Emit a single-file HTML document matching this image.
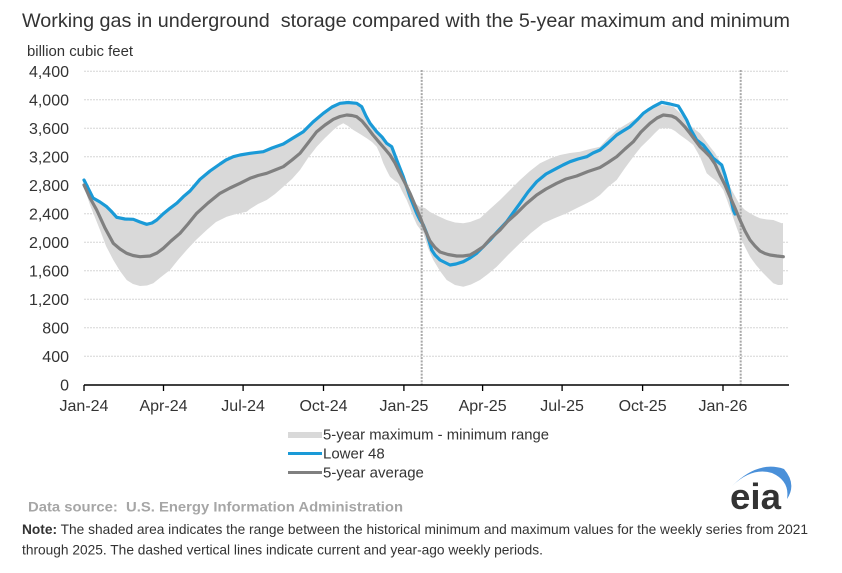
<!DOCTYPE html>
<html><head><meta charset="utf-8"><style>
html,body{margin:0;padding:0;background:#fff;}
svg{display:block;}
text{font-family:"Liberation Sans",Arial,sans-serif;}
</style></head><body>
<svg width="842" height="573" viewBox="0 0 842 573" xmlns="http://www.w3.org/2000/svg">
<rect width="842" height="573" fill="#fff"/>
<text x="22" y="27" font-size="19.5" fill="#333" textLength="768" lengthAdjust="spacingAndGlyphs" style="white-space:pre">Working gas in underground  storage compared with the 5-year maximum and minimum</text>
<text x="27" y="56" font-size="15" fill="#333" textLength="106" lengthAdjust="spacingAndGlyphs">billion cubic feet</text>

<!-- gridlines -->
<g stroke="#d6d6d6" stroke-width="1" stroke-dasharray="2 1">
<line x1="84" x2="789" y1="71.2" y2="71.2"/>
<line x1="84" x2="789" y1="99.7" y2="99.7"/>
<line x1="84" x2="789" y1="128.2" y2="128.2"/>
<line x1="84" x2="789" y1="156.7" y2="156.7"/>
<line x1="84" x2="789" y1="185.2" y2="185.2"/>
<line x1="84" x2="789" y1="213.7" y2="213.7"/>
<line x1="84" x2="789" y1="242.2" y2="242.2"/>
<line x1="84" x2="789" y1="270.7" y2="270.7"/>
<line x1="84" x2="789" y1="299.2" y2="299.2"/>
<line x1="84" x2="789" y1="327.8" y2="327.8"/>
<line x1="84" x2="789" y1="356.3" y2="356.3"/>
</g>

<!-- y labels -->
<g font-size="16" fill="#333" text-anchor="end">
<text x="69" y="77">4,400</text>
<text x="69" y="105.5">4,000</text>
<text x="69" y="134">3,600</text>
<text x="69" y="162.5">3,200</text>
<text x="69" y="191">2,800</text>
<text x="69" y="219.5">2,400</text>
<text x="69" y="248">2,000</text>
<text x="69" y="276.5">1,600</text>
<text x="69" y="305">1,200</text>
<text x="69" y="333.5">800</text>
<text x="69" y="362">400</text>
<text x="69" y="390.5">0</text>
</g>

<!-- band -->
<polygon fill="#d9d9d9" points="
84,179 88,187 93,197 100,201 106.7,205.7 111,210 116.7,216.3 125,218 133.3,218.3 140,221 146.7,223.3 152,222 156.7,219 163,213 170,207.3 177,202 183.3,195.7 190,190 200,178.3 210,170 220,163 226,159 233.3,155.7 240,154 250,152.3 263.3,150.7 272,147 283.3,143 293,137 303.3,130.7 313,121 323.3,112.3 332,106 340,103 348,103 356.7,104 361.7,107.7 366,117 370,124.3 376.7,132.7 382,138 386.7,144.3 391.7,148 396.7,161 400,170 405,184 410,195 415,203 420,207 425,208 430,212 438,216 446.7,220 455,222.5 463.3,223.3 470,222 480,218.3 490,209 500,200 510,190 520,180 530,171 540,163.3 550,158.5 560,155 570,153 580,151.7 590,149 600,146.7 608,138 616.7,130 625,125 633.3,120 641,115 650,110 655,107 660,105 667,105.5 673.3,106.7 680,113 686.7,121.7 693,128 700,133.3 705,140 710,146.7 715,153 720,161.7 725,173 730,186.7 735,196 740,205 745,210 750,213.3 755,216 760,218.3 767,219.5 773.3,220 781.7,223.3 783,223
783,284 781.7,285 778,285 773.3,283.3 768,278 763.3,273.3 756,265 750,256.7 745,247 740,236.7 735,223 731.7,213.3 727,200 723.3,190 719,184 715,180 711,177 706.7,173.3 700,156.7 693.3,145 687,140 680,135 675,131 670,128.3 660,128.3 655,133 650,138.3 641,147 633.3,156.7 625,168 616.7,180 608,187 600,195 593,200 586.7,203.3 576,208.5 566.7,213.3 555,218 543.3,223.3 531,233 520,243.3 508,255 496.7,266.7 488,274 480,280 471,284.5 463.3,286.7 455,285 446.7,280 440,271 433.3,260 428,248 423,232 420,229 417,225 413.3,216.7 410,208 406.7,200 402,191 398.3,183.3 395,181 390,176.7 387,171 383.3,163.3 380,154 376.7,146.7 372,142 366.7,138.3 360,134 353.3,130 348,126 343.3,123.3 338,126 333.3,130 325,138 316.7,146.7 308,158 300,170 292,179 283.3,186.7 275,194 266.7,200 258,204 250,209 246.7,211.7 236,214 226.7,216.7 216,222 206.7,230 196,240 186.7,250 178,260 170,270 161,277 153.3,283.3 147,285.5 140,286 133,284 126.7,280 120,271 113.3,260 106,246 100,230 90,205 84,187"/>

<!-- dashed vertical lines -->
<g stroke="#a8a8a8" stroke-width="2" stroke-dasharray="2 1.3">
<line x1="421.7" x2="421.7" y1="70" y2="385"/>
<line x1="740.7" x2="740.7" y1="70" y2="385"/>
</g>

<!-- Lower 48 -->
<polyline fill="none" stroke="#1a9ad7" stroke-width="3.2" stroke-linejoin="round" stroke-linecap="round" points="
84,180 88,188 93,198 100,202 106.7,206.7 111,211 116.7,217.3 125,219 133.3,219.3 140,222 146.7,224.3 152,223 156.7,220 163,214 170,208.3 177,203 183.3,196.7 190,191 200,179.3 210,171 220,164 226,160 233.3,156.7 240,155 250,153.3 263.3,151.7 272,148 283.3,144 293,138 303.3,131.7 313,122 323.3,113.3 332,107 340,103.3 348,102.5 356.7,103.3 361.7,106.7 366,116 370,123.3 376.7,131.7 382,137 386.7,143.3 391.7,146.7 396.7,160 403.3,176.7 410,196.7 416.7,213.3 420,220 423.3,225 426.7,233.3 431.7,250 435,255 440,260 450,265 456,264 463.3,261.7 470,258 476.7,253.3 483,247 490,240 498,231 506.7,221.7 513,213 520,203.3 528,192 536.7,181.7 546,174 556.7,168.3 563,165 570,161.7 578,159 586.7,156.7 593,153 600,150 608,143 616.7,135 623,131 630,126.7 637,120 643.3,113.3 648,110 653.3,106.7 661.7,102.3 670,104 678.3,106 682,112 686.7,120 691,130 696.7,140 703.3,145 708,151 713.3,158.3 718,162 721.7,165 725,175 728.3,186.7 733.3,210 735,214"/>

<!-- 5-year average -->
<polyline fill="none" stroke="#808080" stroke-width="3.2" stroke-linejoin="round" stroke-linecap="round" points="
84,185 90,198 96.7,210 105,228 113.3,243.3 120,249 126.7,253.3 133,255.5 140,256.7 150,256 157,253 163.3,248.3 171,241 180,233.3 188,224 196.7,213.3 208,203 220,193.3 230,188 240,183.3 250,178.3 258,175.5 266.7,173.3 275,170 283.3,166.7 292,160 300,153.3 308,143 316.7,131.7 325,125 333.3,119.3 340,116.5 346.7,115 352,115.5 356.7,116.7 362,121 366.7,126.7 373,135 380,143.3 385,149 390,155 395,163 400,173.3 405,183 410,193.3 415,205 420,217 425,230 430,241 435,247.5 440,252 448,254.5 456.7,256 463,256 470,255 476,251.5 483.3,246.7 491,238 500,230 508,221 516.7,213.3 526,204 536.7,195 546,189 556.7,183.3 566,179 576.7,176 588,171.5 600,167.5 608,162.5 616.7,156.7 625,149 633.3,141.7 641,132 650,123.3 657,118 663.3,115 671.7,116 676,118 680,121.7 685,127 690,133.3 695,140 700,146.7 705,151.5 710,156.7 715,164 720,175 725,185 730,196.7 735,208 740,220 745,231 750,240 755,246 760,251 765,253.5 770,255 777,256 783.3,256.7"/>

<!-- x axis -->
<line x1="84" x2="789" y1="385" y2="385" stroke="#000" stroke-width="1.5"/>
<g stroke="#000" stroke-width="1.3">
<line x1="84" x2="84" y1="385" y2="391"/>
<line x1="163.5" x2="163.5" y1="385" y2="391"/>
<line x1="243.1" x2="243.1" y1="385" y2="391"/>
<line x1="323.5" x2="323.5" y1="385" y2="391"/>
<line x1="403.9" x2="403.9" y1="385" y2="391"/>
<line x1="482.6" x2="482.6" y1="385" y2="391"/>
<line x1="562.1" x2="562.1" y1="385" y2="391"/>
<line x1="642.6" x2="642.6" y1="385" y2="391"/>
<line x1="723" x2="723" y1="385" y2="391"/>
</g>
<g font-size="16" fill="#333" text-anchor="middle">
<text x="84" y="411">Jan-24</text>
<text x="163.5" y="411">Apr-24</text>
<text x="243.1" y="411">Jul-24</text>
<text x="323.5" y="411">Oct-24</text>
<text x="403.9" y="411">Jan-25</text>
<text x="482.6" y="411">Apr-25</text>
<text x="562.1" y="411">Jul-25</text>
<text x="642.6" y="411">Oct-25</text>
<text x="723" y="411">Jan-26</text>
</g>

<!-- legend -->
<rect x="288" y="432" width="34" height="6" fill="#d9d9d9"/>
<text x="323" y="439.5" font-size="15" fill="#333" textLength="226" lengthAdjust="spacingAndGlyphs">5-year maximum - minimum range</text>
<line x1="288" x2="322" y1="453.5" y2="453.5" stroke="#1a9ad7" stroke-width="3"/>
<text x="323" y="458.5" font-size="15" fill="#333">Lower 48</text>
<line x1="288" x2="322" y1="472.5" y2="472.5" stroke="#808080" stroke-width="3"/>
<text x="323" y="477.5" font-size="15" fill="#333">5-year average</text>

<!-- eia logo -->
<path d="M732,486 Q758,460 784,469 Q797,484 787,499 Q790,481 772,473 Q752,467 732,486 Z" fill="#4a90d9"/>
<text x="730" y="509" font-size="36" font-weight="bold" fill="#333" textLength="51" lengthAdjust="spacingAndGlyphs">eia</text>

<!-- footer -->
<text x="28" y="511.5" font-size="14" font-weight="bold" fill="#a6a6a6" textLength="375" lengthAdjust="spacingAndGlyphs" style="white-space:pre">Data source:  U.S. Energy Information Administration</text>
<text x="22" y="534" font-size="14" fill="#333" textLength="786" lengthAdjust="spacingAndGlyphs"><tspan font-weight="bold">Note:</tspan> The shaded area indicates the range between the historical minimum and maximum values for the weekly series from 2021</text>
<text x="22" y="554.5" font-size="14" fill="#333" textLength="521" lengthAdjust="spacingAndGlyphs">through 2025. The dashed vertical lines indicate current and year-ago weekly periods.</text>
</svg>
</body></html>
